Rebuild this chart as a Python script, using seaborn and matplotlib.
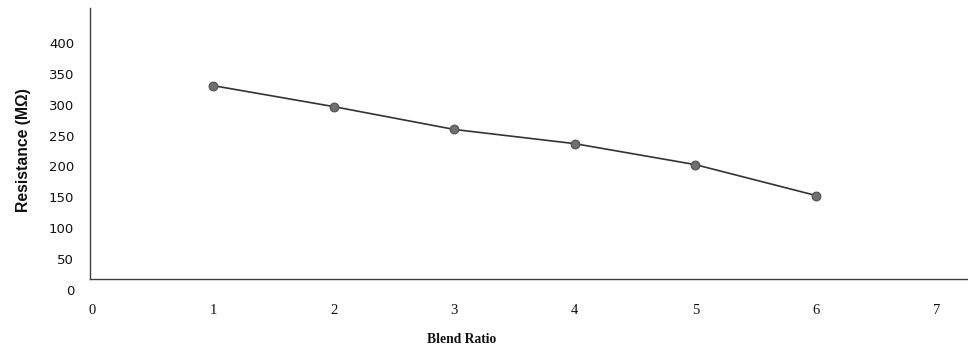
import matplotlib
matplotlib.use("Agg")
import matplotlib.pyplot as plt
import seaborn as sns
import pandas as pd

# Resistance measured for each blend ratio
blend_ratio = [1, 2, 3, 4, 5, 6]
resistance = [331, 297, 260, 237, 203, 153]

x_ticks = [0, 1, 2, 3, 4, 5, 6, 7]
y_ticks = [0, 50, 100, 150, 200, 250, 300, 350, 400]

df = pd.DataFrame({"Blend Ratio": blend_ratio, "Resistance": resistance})

sns.set_style("white")
plt.rcParams["font.family"] = ["DejaVu Sans"]

W, H = 968, 352
fig = plt.figure(figsize=(W / 100, H / 100), dpi=100)
ax = fig.add_axes([90 / W, 1 - 290 / H, 878 / W, 282 / H])

sns.lineplot(
    data=df, x="Blend Ratio", y="Resistance", ax=ax,
    color="#333333", linewidth=1.2,
    marker="o", markersize=6.3,
    markerfacecolor="#6f6f6f", markeredgecolor="#505050", markeredgewidth=0.8,
)

ymax = 282 / 0.6175
y_spine = 11 / 0.6175
ax.set_xlim(-0.02, 7.26)
ax.set_ylim(0, ymax)

for side in ("top", "right"):
    ax.spines[side].set_visible(False)
for side in ("left", "bottom"):
    ax.spines[side].set_color("#404040")
    ax.spines[side].set_linewidth(1.0)
ax.spines["bottom"].set_position(("data", y_spine))
ax.spines["left"].set_bounds(y_spine, ymax)

ax.set_xticks(x_ticks)
ax.set_xticklabels([str(v) for v in x_ticks],
                   fontdict={"family": ["Liberation Serif", "DejaVu Serif"], "size": 10.5})
ax.set_yticks(y_ticks)
ax.set_yticklabels([str(v) for v in y_ticks], fontdict={"size": 9.5})
ax.tick_params(axis="x", length=0, pad=18, colors="#111111")
ax.tick_params(axis="y", length=0, pad=11.5, colors="#111111")

ax.set_xlabel("Blend Ratio", family=["Liberation Serif", "DejaVu Serif"],
              fontweight="bold", fontsize=9.8, color="#111111")
ax.xaxis.set_label_coords((462 - 90) / 878, -0.152)
ax.set_ylabel("Resistance (M\u03a9)", family=["Liberation Sans Narrow", "Liberation Sans"],
              fontweight="bold", fontsize=11.3, color="#111111")
ax.yaxis.set_label_coords(-0.067, 0.496)

fig.savefig("out.png", dpi=100)
